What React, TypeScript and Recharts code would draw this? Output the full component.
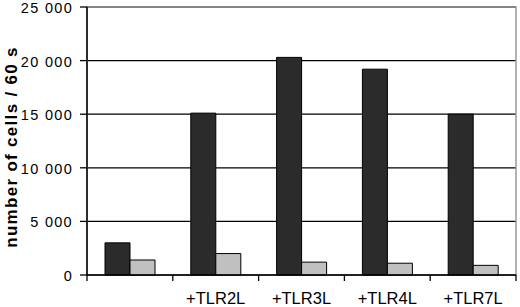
import { BarChart, Bar, XAxis, YAxis, CartesianGrid, ReferenceArea, Label } from 'recharts';

const categories = ['', '+TLR2L', '+TLR3L', '+TLR4L', '+TLR7L'];
const darkValues = [3000, 15100, 20300, 19200, 15000];
const lightValues = [1400, 2000, 1200, 1100, 900];
const yTicks = [0, 5000, 10000, 15000, 20000, 25000];

const data = categories.map((c, i) => ({ name: c, dark: darkValues[i], light: lightValues[i] }));

const FONT = '"Liberation Sans", Arial, sans-serif';

const fmt = (v: number) => String(v).replace(/\B(?=(\d{3})+(?!\d))/g, ' ');

// tick marks sit on the category boundaries, labels in the middle
const XTick = (props: any) => {
  const { x, y, payload, index } = props;
  const half = payload.offset ?? 0;
  const last = index === categories.length - 1;
  return (
    <g>
      <line x1={x - half} y1={y} x2={x - half} y2={y + 6} stroke="#000" strokeWidth={1.3} />
      {last && <line x1={x + half} y1={y} x2={x + half} y2={y + 6} stroke="#000" strokeWidth={1.3} />}
      <text x={x} y={y + 29} textAnchor="middle" fontFamily={FONT} fontSize={16.5} fill="#000">
        {payload.value}
      </text>
    </g>
  );
};

const YTick = (props: any) => {
  const { x, y, payload } = props;
  return (
    <text
      x={x}
      y={y + 1}
      textAnchor="end"
      dominantBaseline="central"
      fontFamily={FONT}
      fontSize={14.5}
      letterSpacing={1.3}
      fill="#000"
    >
      {fmt(payload.value)}
    </text>
  );
};

export default function App() {
  return (
    <div style={{ position: 'absolute', left: 0, top: 0, width: 520, height: 307, background: '#fff' }}>
      <BarChart
        width={520}
        height={307}
        data={data}
        margin={{ top: 7, right: 4, bottom: 0, left: 0 }}
        barGap={0}
        barSize={25}
      >
        <CartesianGrid vertical={false} stroke="#000" strokeWidth={1.3} />
        <ReferenceArea y1={0} y2={25000} fill="none" stroke="#9a9a9a" strokeWidth={1.5} ifOverflow="visible" />
        <XAxis
          dataKey="name"
          height={32}
          interval={0}
          axisLine={{ stroke: '#000', strokeWidth: 1.5 }}
          tickLine={false}
          tickSize={0}
          tickMargin={0}
          tick={<XTick />}
        />
        <YAxis
          width={87}
          domain={[0, 25000]}
          ticks={yTicks}
          interval={0}
          axisLine={{ stroke: '#000', strokeWidth: 1.5 }}
          tickLine={{ stroke: '#000', strokeWidth: 1.3 }}
          tickSize={7}
          tickMargin={7}
          tick={<YTick />}
        >
          <Label
            content={() => (
              <text
                x={11}
                y={147}
                transform="rotate(-90 11 147)"
                textAnchor="middle"
                dominantBaseline="central"
                fontFamily={FONT}
                fontWeight="bold"
                fontSize={17}
                letterSpacing={1.3}
                fill="#000"
              >
                number of cells / 60 s
              </text>
            )}
          />
        </YAxis>
        <Bar dataKey="dark" fill="#2b2b2b" stroke="#000" strokeWidth={1} isAnimationActive={false} />
        <Bar dataKey="light" fill="#c0c0c0" stroke="#000" strokeWidth={1} isAnimationActive={false} />
      </BarChart>
    </div>
  );
}
